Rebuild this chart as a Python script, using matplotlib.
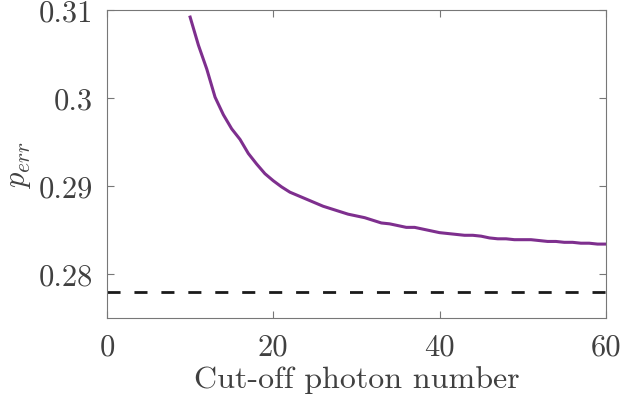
import numpy as np
import matplotlib
matplotlib.use("Agg")
import matplotlib.pyplot as plt

plt.rcParams.update({"font.family": "cmr10",
                     "mathtext.fontset": "cm",
                     "axes.unicode_minus": False})

# cut-off photon number vs error probability
cutoff = np.arange(10, 61)
p_err = [0.3092, 0.3060, 0.3033, 0.3001, 0.2981, 0.2965, 0.2953, 0.2937,
         0.2925, 0.2914, 0.2906, 0.2899, 0.2893, 0.2889, 0.2885, 0.2881,
         0.2877, 0.2874, 0.2871, 0.2868, 0.2866, 0.2864, 0.2861, 0.2858,
         0.2857, 0.2855, 0.2853, 0.2853, 0.2851, 0.2849, 0.2847, 0.2846,
         0.2845, 0.2844, 0.2844, 0.2843, 0.2841, 0.2840, 0.2840, 0.2839,
         0.2839, 0.2839, 0.2838, 0.2837, 0.2837, 0.2836, 0.2836, 0.2835,
         0.2835, 0.2834, 0.2834]
limit_x = [0, 60]
limit_y = [0.278, 0.278]

txt = "#404040"
fig = plt.figure(figsize=(6.22, 4.02), dpi=100)
ax = fig.add_axes([0.172, 0.2065, 0.802, 0.766])

ax.plot(cutoff, p_err, color="#7E2F8E", lw=2.2)
ax.plot(limit_x, limit_y, color="#1a1a1a", lw=2.0, dashes=(4.7, 5))

ax.set_xlim(0, 60)
ax.set_ylim(0.275, 0.31)
ax.set_xticks([0, 20, 40, 60])
ax.set_yticks([0.28, 0.29, 0.30, 0.31])
ax.set_yticklabels(["0.28", "0.29", "0.3", "0.31"])
ax.tick_params(direction="in", top=True, right=True, length=5,
               width=0.8, colors="#777777", labelcolor=txt, labelsize=22)
ax.tick_params(axis="x", pad=11)
ax.tick_params(axis="y", pad=10)
for sp in ax.spines.values():
    sp.set_color("#777777")
    sp.set_linewidth(0.8)

ax.set_xlabel("Cut-off photon number", fontsize=23, color=txt, labelpad=3)
ax.set_ylabel(r"$p_{err}$", fontsize=22, color=txt, labelpad=4)

fig.savefig("out.png", dpi=100, facecolor="white")
